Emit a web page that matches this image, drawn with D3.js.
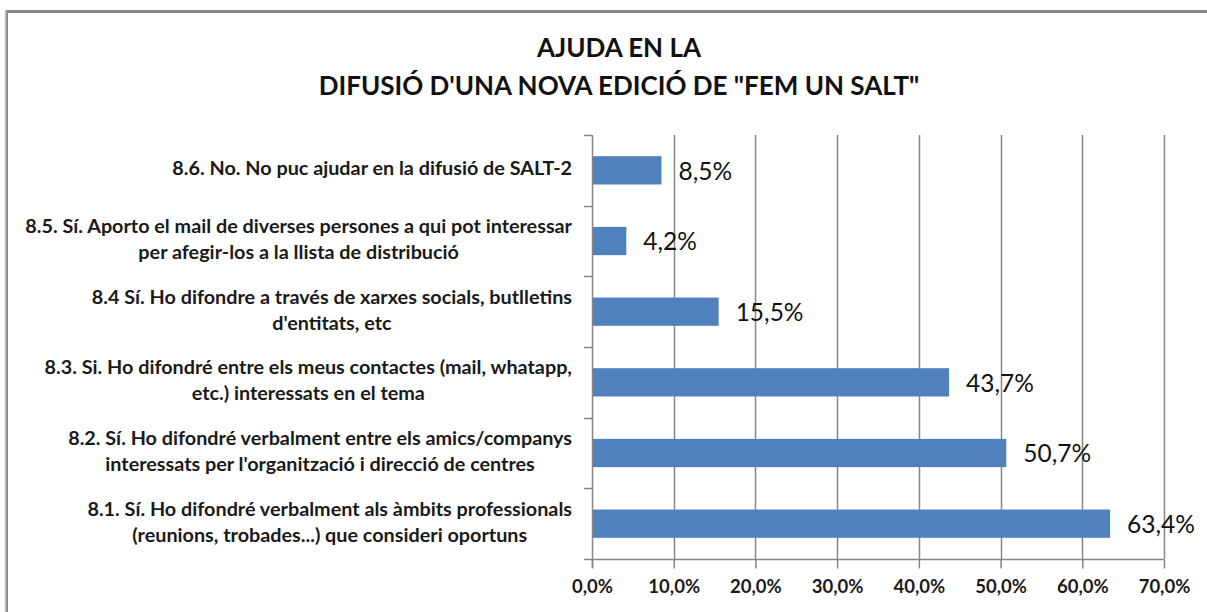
<!DOCTYPE html>
<html>
<head>
<meta charset="utf-8">
<script src="https://cdn.jsdelivr.net/npm/d3@7"></script>
<style>
  body { margin: 0; background: #fff; }
  svg { display: block; }
  .catLabel { font-family: Lato, sans-serif; font-weight: bold; font-size: 19.8px; fill: #1a1a1a; }
  .tickLabel { font-family: Lato, sans-serif; font-weight: bold; font-size: 18.5px; fill: #1a1a1a; }
  .valLabel { font-family: Lato, sans-serif; font-size: 24.5px; fill: #111; }
  .title { font-family: Lato, sans-serif; font-weight: bold; font-size: 26px; fill: #111; }
</style>
</head>
<body>
<div id="chart"></div>
<script>
// data, top to bottom as drawn
var categories = [
    ["8.6. No. No puc ajudar en la difusió de SALT-2"],
    ["8.5. Sí. Aporto el mail de diverses persones a qui pot interessar", "per afegir-los a la llista de distribució"],
    ["8.4 Sí. Ho difondre a través de xarxes socials, butlletins", "d'entitats, etc"],
    ["8.3. Si. Ho difondré entre els meus contactes (mail, whatapp,", "etc.) interessats en el tema"],
    ["8.2. Sí. Ho difondré verbalment entre els amics/companys", "interessats per l'organització i direcció de centres"],
    ["8.1. Sí. Ho difondré verbalment als àmbits professionals", "(reunions, trobades...) que consideri oportuns"]
];
var values = [8.5, 4.2, 15.5, 43.7, 50.7, 63.4];
var tickValues = [0, 10, 20, 30, 40, 50, 60, 70];
var titleLines = ["AJUDA EN LA", "DIFUSIÓ D'UNA NOVA EDICIÓ DE \"FEM UN SALT\""];

var width = 1207;
var height = 612;

var svg = d3
    .select("#chart")
    .append("svg")
    .attr("width", width)
    .attr("height", height);

// outer frame (cut by the window on the right and bottom)
svg.append("rect")
    .attr("x", 6.5).attr("y", 11.5)
    .attr("width", 1240).attr("height", 640)
    .attr("fill", "none")
    .attr("stroke", "#8a8a8a")
    .attr("stroke-width", 3);
svg.append("line")
    .attr("x1", 5.5).attr("x2", 5.5)
    .attr("y1", 10).attr("y2", height)
    .attr("stroke", "#c4c4c4")
    .attr("stroke-width", 1.5);

// title
svg.append("g")
    .selectAll("text")
    .data(titleLines)
    .enter()
    .append("text")
    .attr("class", "title")
    .attr("x", 619)
    .attr("y", function(d, i) { return 50 + i * 38; })
    .attr("text-anchor", "middle")
    .attr("dominant-baseline", "middle")
    .text(function(d) { return d; });

var plotLeft = 592;
var plotTop = 135;
var plotBottom = 559;

var xRange = d3
    .scaleLinear()
    .domain([0, 70])
    .range([plotLeft, plotLeft + 572]);

var yRange = d3
    .scaleBand()
    .domain(d3.range(categories.length))
    .range([plotTop, plotBottom])
    .paddingInner(0.6)
    .paddingOuter(0.3);

var step = (plotBottom - plotTop) / categories.length;

// gridlines
svg.append("g")
    .selectAll("line")
    .data(tickValues.slice(1))
    .enter()
    .append("line")
    .attr("x1", function(d) { return Math.round(xRange(d)) + 0.5; })
    .attr("x2", function(d) { return Math.round(xRange(d)) + 0.5; })
    .attr("y1", plotTop)
    .attr("y2", plotBottom)
    .attr("stroke", "#868686")
    .attr("stroke-width", 1.5);

// bars
svg.append("g")
    .selectAll("rect")
    .data(values)
    .enter()
    .append("rect")
    .attr("x", xRange(0))
    .attr("y", function(d, i) { return yRange(i); })
    .attr("width", function(d) { return xRange(d) - xRange(0); })
    .attr("height", yRange.bandwidth())
    .attr("fill", "#4f81bd");

// value labels
svg.append("g")
    .selectAll("text")
    .data(values)
    .enter()
    .append("text")
    .attr("class", "valLabel")
    .attr("x", function(d) { return xRange(d) + 17; })
    .attr("y", function(d, i) { return yRange(i) + yRange.bandwidth() / 2 + 3; })
    .attr("dominant-baseline", "middle")
    .text(function(d) { return d.toFixed(1).replace(".", ",") + "%"; });

// y axis line + ticks between categories
var axisColor = "#868686";
svg.append("line")
    .attr("x1", plotLeft + 0.5).attr("x2", plotLeft + 0.5)
    .attr("y1", plotTop).attr("y2", plotBottom + 9)
    .attr("stroke", axisColor).attr("stroke-width", 1.5);

svg.append("g")
    .selectAll("line")
    .data(d3.range(categories.length))
    .enter()
    .append("line")
    .attr("x1", plotLeft - 8).attr("x2", plotLeft)
    .attr("y1", function(d) { return Math.round(plotTop + d * step) + 0.5; })
    .attr("y2", function(d) { return Math.round(plotTop + d * step) + 0.5; })
    .attr("stroke", axisColor).attr("stroke-width", 1.5);

// x axis
var xAxis = d3.axisBottom(xRange)
    .tickValues(tickValues)
    .tickSize(9)
    .tickSizeOuter(0)
    .tickFormat(function(d) { return d.toFixed(1).replace(".", ",") + "%"; });

var gx = svg.append("g")
    .attr("transform", "translate(0," + (plotBottom + 0.5) + ")")
    .call(xAxis);
gx.select(".domain").remove();
gx.append("line")
    .attr("x1", plotLeft - 8).attr("x2", xRange(70))
    .attr("stroke", axisColor).attr("stroke-width", 1.5);
gx.selectAll(".tick line").attr("stroke", axisColor).attr("stroke-width", 1.5);
gx.selectAll(".tick text")
    .attr("class", "tickLabel")
    .attr("y", 29)
    .attr("dy", null)
    .attr("dominant-baseline", "middle");
gx.attr("font-family", null).attr("font-size", null);

// category labels, centred lines, right edge at 572
var labelRight = 572;
var labels = svg.append("g")
    .selectAll("text")
    .data(categories)
    .enter()
    .append("text")
    .attr("class", "catLabel")
    .attr("text-anchor", "middle");

labels.each(function(lines, i) {
    var t = d3.select(this);
    var cy = yRange(i) + yRange.bandwidth() / 2;
    lines.forEach(function(line, j) {
        t.append("tspan")
            .attr("y", cy + (j - (lines.length - 1) / 2) * 26)
            .attr("dominant-baseline", "middle")
            .text(line);
    });
    var w = 0;
    t.selectAll("tspan").each(function() {
        w = Math.max(w, this.getComputedTextLength());
    });
    t.selectAll("tspan").attr("x", labelRight - w / 2);
});
</script>
</body>
</html>
